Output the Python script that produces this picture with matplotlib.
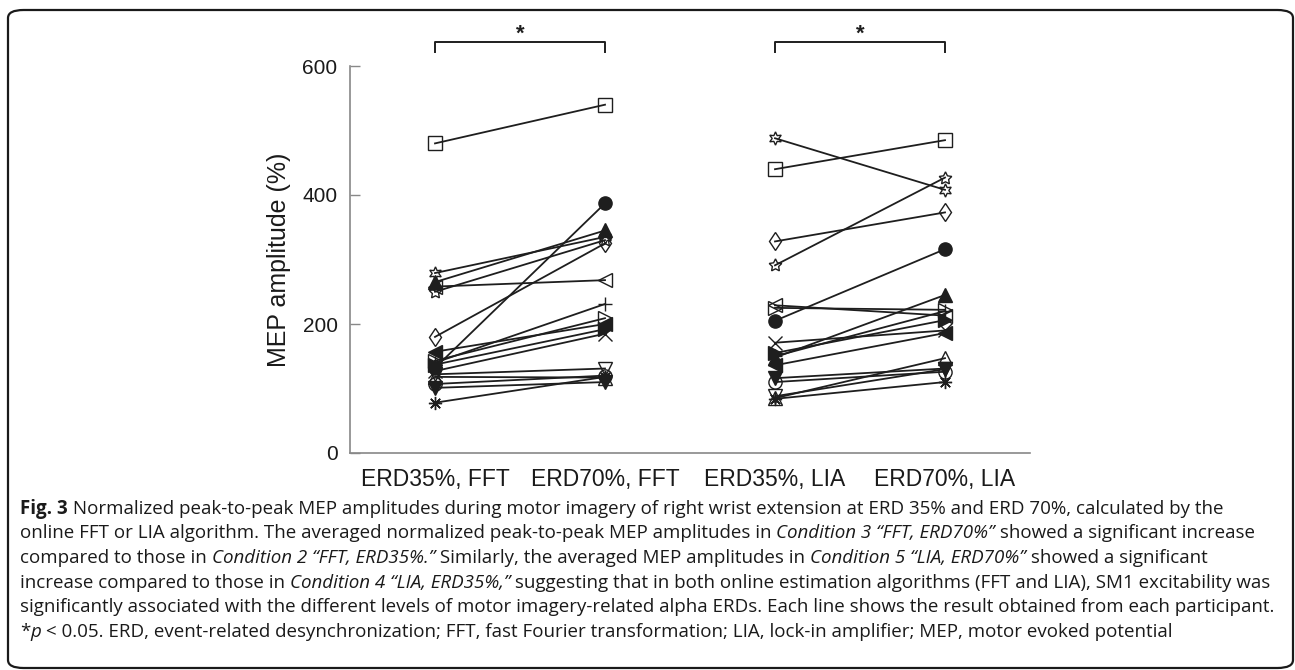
import matplotlib
matplotlib.use("Agg")
import matplotlib.pyplot as plt
from matplotlib.patches import FancyBboxPatch

W, H = 1295, 670

# ---------------- data ----------------
conditions = ["ERD35%, FFT", "ERD70%, FFT", "ERD35%, LIA", "ERD70%, LIA"]
y_ticks = [0, 200, 400, 600]

# one marker per participant (MATLAB-style symbols)
markers = ["s", "o", "^", (6, 1, 0), (5, 1, 0), "d", "<", "+",
           ">", ">", "<", "x", "v", "v", (8, 2, 0), "o", "^"]
filled = [False, True, True, False, False, False, False, False,
          False, True, True, False, False, True, False, False, False]

fft_erd35 = [480, 132, 265, 279, 250, 180, 258, 140, 143, 137, 157, 127, 122, 101, 78, 107, 118]
fft_erd70 = [540, 387, 345, 335, 330, 325, 268, 231, 209, 192, 200, 185, 131, 110, 118, 120, 117]
lia_erd35 = [440, 205, 148, 488, 291, 328, 229, 150, 225, 155, 136, 171, 88, 116, 84, 110, 85]
lia_erd70 = [485, 316, 245, 408, 427, 373, 213, 220, 222, 206, 186, 190, 130, 131, 110, 126, 147]

sig_pairs = [(1, 2), (3, 4)]
sig_label = "*"

caption_lines = [
    [("Fig. 3", "b"), (" Normalized peak-to-peak MEP amplitudes during motor imagery of right wrist extension at ERD 35% and ERD 70%, calculated by the", "n")],
    [("online FFT or LIA algorithm. The averaged normalized peak-to-peak MEP amplitudes in ", "n"), ("Condition 3 \u201cFFT, ERD70%\u201d", "i"), (" showed a significant increase", "n")],
    [("compared to those in ", "n"), ("Condition 2 \u201cFFT, ERD35%.\u201d", "i"), (" Similarly, the averaged MEP amplitudes in ", "n"), ("Condition 5 \u201cLIA, ERD70%\u201d", "i"), (" showed a significant", "n")],
    [("increase compared to those in ", "n"), ("Condition 4 \u201cLIA, ERD35%,\u201d", "i"), (" suggesting that in both online estimation algorithms (FFT and LIA), SM1 excitability was", "n")],
    [("significantly associated with the different levels of motor imagery-related alpha ERDs. Each line shows the result obtained from each participant.", "n")],
    [("*", "n"), ("p", "i"), (" < 0.05. ERD, event-related desynchronization; FFT, fast Fourier transformation; LIA, lock-in amplifier; MEP, motor evoked potential", "n")],
]

# ---------------- figure ----------------
fig = plt.figure(figsize=(W / 100, H / 100), dpi=100)
fig.patch.set_facecolor("white")

def fx(x):
    return x / W

def fy(y):
    return 1 - y / H

# rounded frame
frame = FancyBboxPatch((fx(8), fy(668)), fx(1293) - fx(8), fy(10) - fy(668),
                       boxstyle="round,pad=0,rounding_size=0.012",
                       transform=fig.transFigure, fill=False,
                       edgecolor="#1a1a1a", linewidth=1.6)
fig.patches.append(frame)

ax = fig.add_axes([fx(350), fy(453), fx(1030) - fx(350), fy(66) - fy(453)])
ax.set_xlim(0.5, 4.5)
ax.set_ylim(0, 600)

series = [fft_erd35, fft_erd70, lia_erd35, lia_erd70]
ink = "#1e1e1e"
for i in range(len(markers)):
    mfc = ink if filled[i] else "none"
    for (a, b) in sig_pairs:
        ax.plot([a, b], [series[a - 1][i], series[b - 1][i]], color=ink,
                linewidth=1.3, marker=markers[i], markersize=9.5,
                markerfacecolor=mfc, markeredgecolor=ink, markeredgewidth=1.0,
                clip_on=False, zorder=3)

ax.set_xticks(range(1, 5))
ax.set_xticklabels(conditions, fontsize=16.5, family="Liberation Sans", color="#1a1a1a")
ax.set_yticks(y_ticks)
ax.set_yticklabels([str(v) for v in y_ticks], fontsize=15, family="Liberation Sans", color="#1a1a1a")
ax.tick_params(axis="x", length=0, pad=11)
ax.tick_params(axis="y", direction="in", length=7, width=1, color="#888888", pad=9)
for s in ["top", "right"]:
    ax.spines[s].set_visible(False)
for s in ["left", "bottom"]:
    ax.spines[s].set_color("#888888")
    ax.spines[s].set_linewidth(1.2)
ax.set_ylabel("MEP amplitude (%)", fontsize=18, family="Liberation Sans", color="#1a1a1a", labelpad=8)

# significance brackets
for (a, b) in sig_pairs:
    ax.plot([a, a, b, b], [622, 637, 637, 622], color=ink, linewidth=1.4, clip_on=False)
    ax.text((a + b) / 2, 640, sig_label, ha="center", va="baseline", fontsize=16,
            fontweight="bold", family="Liberation Sans", color=ink)

# ---------------- caption ----------------
cap_font = "Open Sans"
fig.canvas.draw()
renderer = fig.canvas.get_renderer()

def text_width(s, fs, weight="normal", style="normal"):
    t1 = fig.text(0, 0, "|" + s + "|", fontsize=fs, family=cap_font, fontweight=weight, fontstyle=style)
    t2 = fig.text(0, 0, "||", fontsize=fs, family=cap_font, fontweight=weight, fontstyle=style)
    w = t1.get_window_extent(renderer).width - t2.get_window_extent(renderer).width
    t1.remove(); t2.remove()
    return w

fs0 = 12.0
w5 = text_width(caption_lines[4][0][0], fs0)
cap_fs = fs0 * (1250 / w5)

styles = {"n": ("normal", "normal"), "b": ("bold", "normal"), "i": ("normal", "italic")}
baselines = [514, 538, 563, 588, 612, 637]
for line, yb in zip(caption_lines, baselines):
    x = 20
    for txt, st in line:
        weight, style = styles[st]
        fig.text(fx(x), fy(yb), txt, fontsize=cap_fs, family=cap_font, fontweight=weight,
                 fontstyle=style, ha="left", va="baseline", color="#1a1a1a")
        x += text_width(txt, cap_fs, weight, style)

fig.savefig("out.png", dpi=100, facecolor="white")
